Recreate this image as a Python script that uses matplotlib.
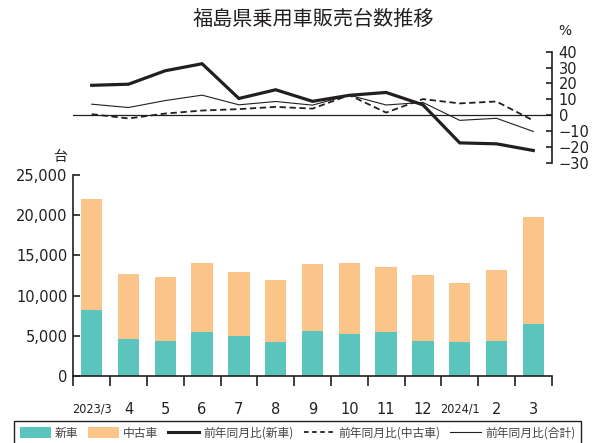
import matplotlib
matplotlib.use('Agg')
import matplotlib.pyplot as plt
import numpy as np
from matplotlib.patches import Patch, Rectangle
from matplotlib.lines import Line2D

plt.rcParams['font.family'] = ['DejaVu Sans', 'Noto Sans CJK JP']

# monthly registrations (units) and year-on-year change (%)
months = ['2023/3', '4', '5', '6', '7', '8', '9', '10', '11', '12', '2024/1', '2', '3']
new_cars = [8200, 4600, 4350, 5500, 5000, 4250, 5600, 5250, 5500, 4350, 4250, 4350, 6450]
used_cars = [13850, 8100, 8000, 8600, 7950, 7700, 8350, 8850, 8100, 8250, 7350, 8850, 13350]
yoy_new = [18.8, 19.5, 28.0, 32.4, 10.5, 16.0, 8.7, 12.5, 14.3, 6.5, -17.5, -18.1, -22.3]
yoy_used = [0.6, -2.1, 1.0, 2.9, 3.8, 5.2, 4.1, 12.6, 1.6, 10.1, 7.4, 8.6, -3.4]
yoy_total = [6.9, 4.8, 9.2, 12.6, 6.5, 8.6, 6.3, 12.6, 6.4, 8.0, -3.3, -2.0, -10.3]

TEAL = '#5bc4bc'
ORANGE = '#fbc589'
INK = '#231f20'
JP = ['Noto Sans CJK JP', 'DejaVu Sans']

W, H = 599, 443
fig = plt.figure(figsize=(W / 100, H / 100), dpi=100)

def fx(px):
    return px / W

def fy(py):
    return 1 - py / H

x = np.arange(len(months))

# --- stacked bars ---
ax = fig.add_axes([fx(73.3), fy(376), fx(551.7 - 73.3), (376 - 175) / H])
ax.bar(x, new_cars, width=0.58, color=TEAL, zorder=2)
ax.bar(x, used_cars, width=0.58, bottom=new_cars, color=ORANGE, zorder=2)
ax.set_xlim(-0.5, len(months) - 0.5)
ax.set_ylim(0, 25000)
ax.set_yticks(range(0, 25001, 5000))
ax.set_yticklabels([f'{v:,}' for v in range(0, 25001, 5000)], fontsize=10.5, color=INK)
ax.tick_params(axis='y', direction='in', length=5, width=1.2, color=INK, pad=4)
ax.set_xticks(np.arange(-0.5, len(months)), minor=False)
ax.set_xticklabels([])
ax.tick_params(axis='x', which='major', direction='out', length=7, width=1.2, color=INK)
ax.set_xticks(x, minor=True)
ax.set_xticklabels(months, minor=True, fontsize=10.5, color=INK)
ax.tick_params(axis='x', which='minor', length=0, pad=19)
for lbl, m in zip(ax.get_xticklabels(minor=True), months):
    if '/' in m:
        # year labels are set in a condensed face
        lbl.set_fontstretch('condensed')
        lbl.set_fontsize(9)
for s in ['top', 'right']:
    ax.spines[s].set_visible(False)
for s in ['left', 'bottom']:
    ax.spines[s].set_linewidth(1.2)
    ax.spines[s].set_color(INK)

# --- year-on-year lines ---
ax2 = fig.add_axes([fx(73.3), fy(162.7), fx(551.7 - 73.3), (162.7 - 51.7) / H])
ax2.axhline(0, color=INK, lw=0.9)
ax2.plot(x, yoy_new, color=INK, lw=2.3, solid_joinstyle='miter')
ax2.plot(x, yoy_used, color=INK, lw=1.3, ls=(0, (3.5, 2)))
ax2.plot(x, yoy_total, color=INK, lw=0.8)
ax2.set_xlim(-0.5, len(months) - 0.5)
ax2.set_ylim(-30, 40)
ax2.set_yticks(range(-30, 41, 10))
ax2.yaxis.tick_right()
ax2.tick_params(axis='y', direction='in', length=4, width=1.2, color=INK, pad=5,
                labelsize=10.5, labelcolor=INK)
ax2.set_xticks([])
for s in ['top', 'left', 'bottom']:
    ax2.spines[s].set_visible(False)
ax2.spines['right'].set_linewidth(1.2)
ax2.spines['right'].set_color(INK)
ax2.patch.set_alpha(0)

# --- titles and units ---
fig.text(fx(313), fy(19), '福島県乗用車販売台数推移', family=JP, fontsize=14.5,
         color=INK, ha='center', va='center')
fig.text(fx(565), fy(31), '%', fontsize=10, color=INK, ha='center', va='center')
fig.text(fx(60), fy(157), '台', family=JP, fontsize=10, color=INK, ha='center', va='center')

# --- legend ---
fig.patches.append(Rectangle((fx(14), fy(470)), fx(581 - 14), (470 - 421) / H,
                             transform=fig.transFigure, fill=False, edgecolor=INK, lw=1.0))
handles = [
    Patch(facecolor=TEAL),
    Patch(facecolor=ORANGE),
    Line2D([], [], color=INK, lw=2.2),
    Line2D([], [], color=INK, lw=1.3, ls=(0, (2.5, 2))),
    Line2D([], [], color=INK, lw=0.8),
]
labels = ['新車', '中古車', '前年同月比(新車)', '前年同月比(中古車)', '前年同月比(合計)']
fig.legend(handles, labels, loc='center left', bbox_to_anchor=(fx(20), fy(433)),
           ncol=5, frameon=False, prop={'family': JP, 'size': 8.5},
           handlelength=2.6, handleheight=1.05, handletextpad=0.35, columnspacing=0.85,
           borderpad=0, borderaxespad=0, labelcolor='#444444')

fig.savefig('out.png', dpi=100)
